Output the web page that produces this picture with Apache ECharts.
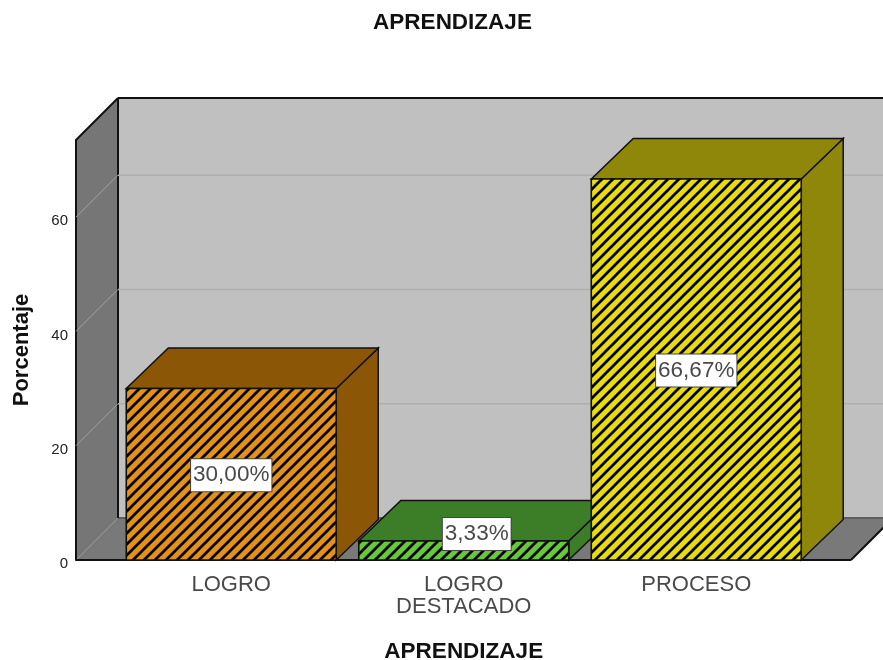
<!DOCTYPE html>
<html>
<head>
<meta charset="utf-8">
<style>html,body{margin:0;padding:0;background:#fff;overflow:hidden}#c{width:883px;height:660px}</style>
<script src="https://cdn.jsdelivr.net/npm/echarts@6/dist/echarts.min.js"></script>
</head>
<body>
<div id="c"></div>
<script>
const categories = ['LOGRO', 'LOGRO\nDESTACADO', 'PROCESO'];
const percentages = [30.00, 3.33, 66.67];
const yTicks = [20, 40, 60];
const chartTitle = 'APRENDIZAJE';
const xTitle = 'APRENDIZAJE';
const yTitle = 'Porcentaje';

const FONT = '"Liberation Sans", Arial, sans-serif';
const DEPTH = 42;
const BAR_RISE = 40.5;
const FRONT = ['#e59212', '#66c93a', '#e8dc0c'];
const SHADE = ['#8b5707', '#3c7d28', '#8f870a'];
const EDGE = '#111';

function hatch(color) {
  const n = 11, c = document.createElement('canvas');
  c.width = n; c.height = n;
  const g = c.getContext('2d');
  g.fillStyle = color; g.fillRect(0, 0, n, n);
  g.strokeStyle = '#000'; g.lineWidth = 2.7;
  [[-n, n, n, -n], [0, n, n, 0], [0, 2 * n, 2 * n, 0]].forEach(function (s) {
    g.beginPath(); g.moveTo(s[0], s[1]); g.lineTo(s[2], s[3]); g.stroke();
  });
  return { image: c, repeat: 'repeat' };
}
const PATTERNS = FRONT.map(hatch);

function poly(points, fill, stroke, lw) {
  return { type: 'polygon', shape: { points: points }, style: { fill: fill, stroke: stroke || null, lineWidth: lw || 0 } };
}
function seg(x1, y1, x2, y2, color, lw) {
  return { type: 'line', shape: { x1: x1, y1: y1, x2: x2, y2: y2 }, style: { stroke: color, lineWidth: lw, fill: null } };
}
function frameBounds(params, api) {
  const sys = params.coordSys;
  return { l: sys.x - 39, r: sys.x + sys.width + 38.5, t: api.coord([0, 73.5])[1], b: api.coord([0, 0])[1] };
}

function renderFrame(params, api) {
  const f = frameBounds(params, api), d = DEPTH;
  return { type: 'group', children: [
    poly([[f.l + d, f.t - d], [f.r + d, f.t - d], [f.r + d, f.b - d], [f.l + d, f.b - d]], '#c0c0c0'),
    poly([[f.l, f.t], [f.l + d, f.t - d], [f.l + d, f.b - d], [f.l, f.b]], '#767676'),
    poly([[f.l, f.b], [f.l + d, f.b - d], [f.r + d, f.b - d], [f.r, f.b]], '#797979'),
    seg(f.l + d, f.b - d, f.r + d, f.b - d, '#5e5e5e', 2),
    seg(f.l, f.b, f.l + d, f.b - d, '#9a9a9a', 1),
    seg(f.l, f.t, f.l + d, f.t - d, EDGE, 2),
    seg(f.l + d, f.t - d, f.r + d, f.t - d, EDGE, 2),
    seg(f.l + d, f.t - d, f.l + d, f.b - d, EDGE, 2),
    seg(f.l, f.t, f.l, f.b, EDGE, 2),
    seg(f.r, f.b, f.r + d, f.b - d, EDGE, 2),
    seg(f.l, f.b, f.r, f.b, EDGE, 2)
  ] };
}

function renderGrid(params, api) {
  const f = frameBounds(params, api), d = DEPTH, y = api.coord([0, api.value(0)])[1];
  return { type: 'group', children: [
    seg(f.l, y, f.l + d, y - d, '#a3a3a3', 1),
    seg(f.l + d, y - d, f.r + d, y - d, '#aeaeae', 1.5)
  ] };
}

function renderBar(params, api) {
  const i = api.value(0), v = api.value(1), d = DEPTH, rise = BAR_RISE;
  const top = api.coord([i, v]), base = api.coord([i, 0]);
  const w = api.size([1, 0])[0] * 0.903;
  const x1 = top[0] - w / 2, x2 = top[0] + w / 2, yT = top[1], yB = base[1];
  const i0 = params.dataIndex;
  const small = yB - yT < 40;
  const txt = v.toFixed(2).replace('.', ',') + '%';
  return { type: 'group', children: [
    poly([[x2, yT], [x2 + d, yT - rise], [x2 + d, yB - rise], [x2, yB]], SHADE[i0], EDGE, 1.5),
    poly([[x1, yT], [x1 + d, yT - rise], [x2 + d, yT - rise], [x2, yT]], SHADE[i0], EDGE, 1.5),
    poly([[x1, yT], [x2, yT], [x2, yB], [x1, yB]], PATTERNS[i0], EDGE, 1.6),
    { type: 'text', z2: 10, style: {
      text: txt, x: top[0] + (small ? 13 : 0), y: small ? yB - 26 : (yT + yB) / 2 + 1,
      align: 'center', verticalAlign: 'middle', font: '22.5px ' + FONT, fill: '#4a4a4a',
      backgroundColor: '#fff', borderColor: '#444', borderWidth: 1, padding: [5, 2, 4, 2]
    } }
  ] };
}

const chart = echarts.init(document.getElementById('c'), null, { renderer: 'canvas' });
chart.setOption({
  animation: false,
  backgroundColor: '#fff',
  title: { text: chartTitle, left: 447.5, top: 6, textAlign: 'center',
    textStyle: { fontFamily: FONT, fontSize: 22.5, fontWeight: 'bold', color: '#111' } },
  grid: { left: 115, right: 70.5, top: 140, bottom: 100, outerBoundsMode: 'none' },
  xAxis: {
    type: 'category', data: categories,
    name: xTitle, nameLocation: 'middle', nameGap: 80,
    nameTextStyle: { fontFamily: FONT, fontSize: 22.5, fontWeight: 'bold', color: '#111' },
    axisLine: { show: false }, axisTick: { show: false },
    axisLabel: { fontFamily: FONT, fontSize: 22, color: '#4a4a4a', margin: 14, lineHeight: 22 },
    splitLine: { show: false }
  },
  yAxis: {
    type: 'value', min: 0, max: 73.5, interval: 20, offset: 39,
    name: yTitle, nameLocation: 'middle', nameGap: 43, nameRotate: 90,
    nameTextStyle: { fontFamily: FONT, fontSize: 22, fontWeight: 'bold', color: '#111' },
    axisLine: { show: true, lineStyle: { color: EDGE, width: 2 } }, axisTick: { show: false },
    axisLabel: { margin: 8, showMaxLabel: false, formatter: '{v|{value}}',
      rich: { v: { fontFamily: FONT, fontSize: 15, color: '#222', padding: [8, 0, 0, 0] } } },
    splitLine: { show: false }
  },
  series: [
    { type: 'custom', name: 'frame', renderItem: renderFrame, data: [0], z: 1, silent: true,
      encode: { y: 0 } },
    { type: 'custom', name: 'grid', renderItem: renderGrid, data: yTicks, z: 2, silent: true,
      encode: { y: 0 } },
    { type: 'custom', name: 'bars', renderItem: renderBar, z: 3,
      data: percentages.map(function (v, i) { return [i, v]; }),
      encode: { x: 0, y: 1 } }
  ]
});
</script>
</body>
</html>
